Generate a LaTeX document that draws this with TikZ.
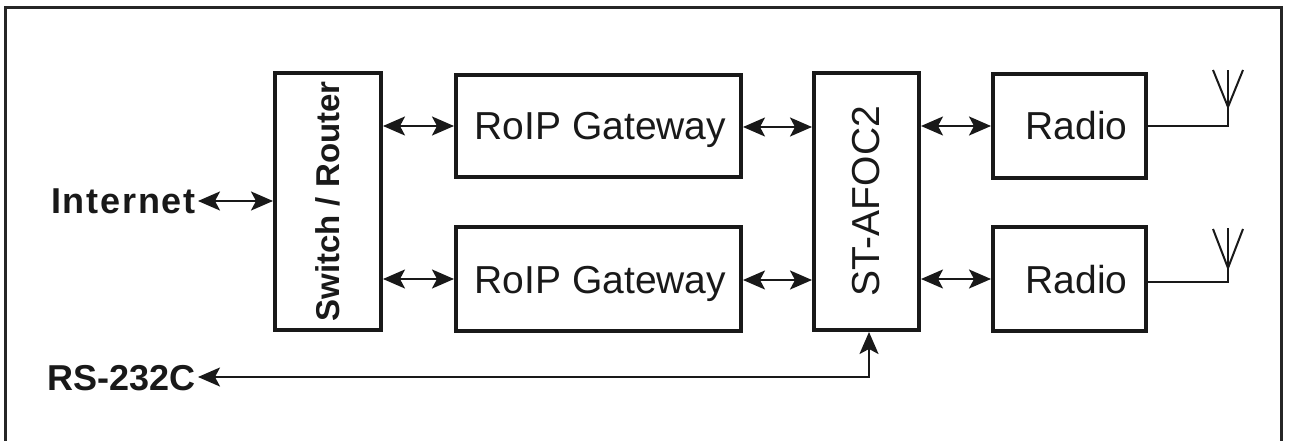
\documentclass[tikz,border=0pt]{standalone}
\usepackage{fontspec}
\setmainfont{Liberation Sans}
\usepackage{graphicx}
\usetikzlibrary{arrows.meta}
\tikzset{
  blk/.style={draw=black!90, line width=4pt, inner sep=0pt, font=\fontsize{39}{47}\selectfont, text=black!90},
  hblk/.style={blk, text height=28pt, text depth=0pt},
  arr/.style={line width=2.2pt, draw=black!90, -{Stealth[length=22pt,width=19pt,inset=5pt]}},
  biarr/.style={line width=2.2pt, draw=black!90, {Stealth[length=22pt,width=19pt,inset=5pt]}-{Stealth[length=22pt,width=19pt,inset=5pt]}},
  wire/.style={line width=2pt, draw=black!90},
  lbl/.style={inner sep=0pt, font=\fontsize{36}{43}\selectfont\bfseries, text=black!90}
}
\begin{document}
\begin{tikzpicture}[x=1pt,y=-1pt]
\useasboundingbox (0,0) rectangle (1291,441);
\fill[white] (0,0) rectangle (1291,441);
% frame
\draw[line width=3pt, draw=black!85] (5.5,441) -- (5.5,8) -- (1281,8) -- (1281,441);
% blocks
\node[blk, minimum width=106pt, minimum height=257pt] (sw) at (328,201.5)
  {\rotatebox{90}{\fontsize{33}{40}\selectfont\bfseries Switch / Router}};
\node[hblk, minimum width=285pt, minimum height=102pt] (gw1) at (598.5,126) {\hspace*{4pt}RoIP Gateway};
\node[hblk, minimum width=285pt, minimum height=104pt] (gw2) at (598.5,279) {\hspace*{4pt}RoIP Gateway};
\node[blk, minimum width=105pt, minimum height=257pt] (st) at (866.5,201.5)
  {\rotatebox{90}{ST-AFOC2}};
\node[hblk, minimum width=153pt, minimum height=104pt] (r1) at (1069.5,126) {\hspace*{14pt}Radio};
\node[hblk, minimum width=153pt, minimum height=104pt] (r2) at (1069.5,279) {\hspace*{14pt}Radio};
% labels
\node[lbl, anchor=east] (inet) at (196,201) {\addfontfeature{LetterSpace=5}Internet};
\node[lbl, anchor=east] (rs) at (196,378) {RS-232C};
% connectors
\draw[biarr] ([xshift=2pt]inet.east) -- (sw.west |- inet.east);
\draw[biarr] (sw.east |- gw1.west) -- (gw1.west);
\draw[biarr] (sw.east |- gw2.west) -- (gw2.west);
\draw[biarr] ([yshift=-1pt]gw1.east) -- ([yshift=-1pt]st.west |- gw1.east);
\draw[biarr] ([yshift=-1pt]gw2.east) -- ([yshift=-1pt]st.west |- gw2.east);
\draw[biarr] (st.east |- r1.west) -- (r1.west);
\draw[biarr] (st.east |- r2.west) -- (r2.west);
\draw[biarr] ([xshift=2pt,yshift=1pt]rs.east) -| ([xshift=2.5pt]st.south);
% antennas
\coordinate (a1) at (1228,126);
\coordinate (a1t) at (1228,70);
\draw[wire] (r1.east) -- (a1) -- (a1t);
\draw[wire, line join=miter] (1213,70) -- (1228,107) -- (1243,70);
\coordinate (a2) at (1228,282);
\coordinate (a2t) at (1228,228);
\draw[wire] ([yshift=-3pt]r2.east) -- (a2) -- (a2t);
\draw[wire, line join=miter] (1213,229) -- (1228,268) -- (1243,229);
\end{tikzpicture}
\end{document}
